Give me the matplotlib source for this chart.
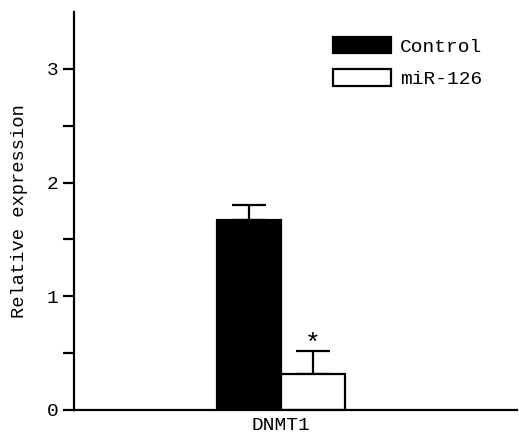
import matplotlib
matplotlib.use("Agg")
import matplotlib.pyplot as plt
from matplotlib.ticker import FixedLocator
from matplotlib.patches import Patch

categories = ["DNMT1"]
series_names = ["Control", "miR-126"]
means = [1.67, 0.32]
errors = [0.13, 0.20]
yticks = [0, 1, 2, 3]
minor_ticks = [0.5, 1.5, 2.5]

plt.rcParams['font.family'] = ['Liberation Mono', 'DejaVu Sans Mono']

fig = plt.figure(figsize=(5.19, 4.42), dpi=100)
ax = fig.add_axes([74/519, 1 - 410/442, (517-74)/519, (410-12)/442])

w = 0.289
xs = [-w/2, w/2]
colors = ["black", "white"]
for x, m, e, c, name in zip(xs, means, errors, colors, series_names):
    ax.bar(x, m, width=w, color=c, edgecolor="black", linewidth=1.6, zorder=2, label=name)
    ax.errorbar(x, m, yerr=[[0], [e]], fmt="none", ecolor="black", elinewidth=1.6,
                capsize=12, capthick=1.6, zorder=1)

ax.text(xs[1], means[1] + errors[1] + 0.06, "*", ha="center", va="center", fontsize=19)

ax.set_xlim(-0.935, 1.065)
ax.set_ylim(0, 3.5)
ax.set_xticks([0])
ax.set_xticklabels(categories, fontsize=14)
ax.tick_params(axis="x", length=0, pad=5)
ax.set_yticks(yticks)
ax.yaxis.set_minor_locator(FixedLocator(minor_ticks))
ax.tick_params(axis="y", which="both", direction="out", length=8, width=1.6, labelsize=14, pad=3)
ax.set_ylabel("Relative expression", fontsize=13.5, labelpad=14)

for s in ["top", "right"]:
    ax.spines[s].set_visible(False)
for s in ["left", "bottom"]:
    ax.spines[s].set_linewidth(1.6)

handles = [Patch(facecolor="black", edgecolor="black", linewidth=1.6),
           Patch(facecolor="white", edgecolor="black", linewidth=1.6)]
ax.legend(handles, series_names, loc="upper left", bbox_to_anchor=(0.585, 0.937),
          frameon=False, fontsize=14, handlelength=3.0, handleheight=0.9,
          handletextpad=0.45, labelspacing=0.7, borderpad=0, borderaxespad=0)

fig.savefig("out.png", dpi=100)
